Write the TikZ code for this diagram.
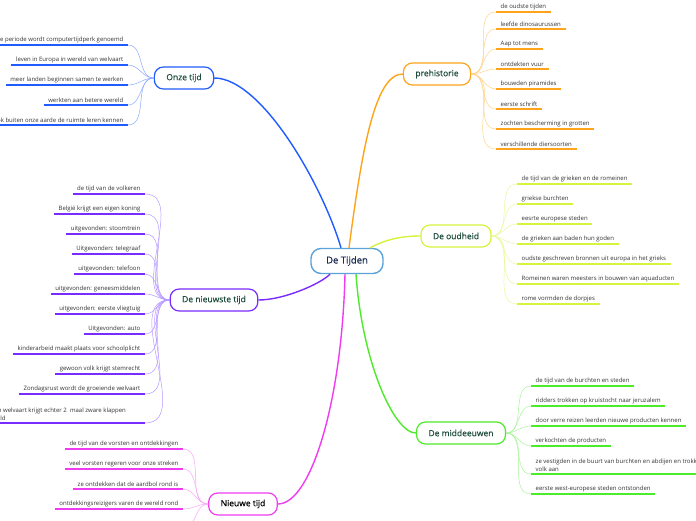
\documentclass[tikz,border=0pt]{standalone}
\usepackage{fontspec}
\setmainfont{Open Sans}
\newfontfamily\hubfont[FakeBold=0.9]{Open Sans}
\newfontfamily\erafont[FakeBold=0.4]{Open Sans}
\usepackage{xcolor}
\usetikzlibrary{positioning}
\definecolor{hubblue}{HTML}{5BA3D9}
\definecolor{hubtext}{HTML}{1A2B50}
\definecolor{eratext}{HTML}{1E4D3B}
\definecolor{leafgray}{HTML}{333333}
\definecolor{onzeblue}{HTML}{1F5BFF}
\definecolor{onzelight}{HTML}{8CABFF}
\definecolor{preorange}{HTML}{FFA31A}
\definecolor{prelight}{HTML}{FFD38A}
\definecolor{oudlime}{HTML}{D4F53C}
\definecolor{oudlight}{HTML}{E8F99C}
\definecolor{midgreen}{HTML}{4DEB2A}
\definecolor{midlight}{HTML}{A8F59A}
\definecolor{nwpurple}{HTML}{7A2BFF}
\definecolor{nwlight}{HTML}{B89AFF}
\definecolor{ntmagenta}{HTML}{F03CF0}
\definecolor{ntlight}{HTML}{F8A8F8}
\tikzset{
  hub/.style={rectangle, draw=hubblue, line width=1.4pt, fill=white, text=hubtext, rounded corners=10pt, minimum width=72pt, minimum height=25pt, font=\hubfont\fontsize{9.5}{11}\selectfont},
  era/.style={rectangle, line width=1.2pt, fill=white, text=eratext, rounded corners=9pt, minimum height=22pt, inner xsep=12pt, font=\erafont\fontsize{8.5}{10}\selectfont},
  leaf/.style={text=leafgray, inner xsep=4.5pt, inner ysep=2.2pt, font=\fontsize{6}{7}\selectfont},
  branch/.style={line width=1.4pt},
  twig/.style={line width=0.5pt},
  underline/.style={line width=1.3pt},
}
\begin{document}
\begin{tikzpicture}[x=1pt, y=-1pt]
  \path[use as bounding box, fill=white] (0,0) rectangle (696,520);
  \clip (0,0) rectangle (696,520);

  \node[hub] (tijden) at (347,261) {De Tijden};
  \node[era, draw=onzeblue] (onze) at (184,78) {Onze tijd};
  \node[era, draw=preorange] (pre) at (437,74) {prehistorie};
  \node[era, draw=oudlime] (oud) at (456,236) {De oudheid};
  \node[era, draw=midgreen] (mid) at (461,433) {De middeeuwen};
  \node[era, draw=nwpurple] (nw) at (214,300) {De nieuwste tijd};
  \node[era, draw=ntmagenta, text=black] (nt) at (243,504) {Nieuwe tijd};

  \draw[branch, onzeblue] ([xshift=-6pt]tijden.north) .. controls +(-19,-64) and +(47,0) .. (onze.east);
  \draw[branch, preorange] ([xshift=2pt]tijden.north) .. controls +(13,-98) and +(-28,0) .. (pre.west);
  \draw[branch, oudlime] ([xshift=23pt]tijden.north) .. controls +(15,-8) and +(-20,0) .. (oud.west);
  \draw[branch, midgreen] ([xshift=9pt]tijden.south) .. controls +(6,87) and +(-22,0) .. (mid.west);
  \draw[branch, nwpurple] ([xshift=-17pt]tijden.south) .. controls +(-10,10) and +(25,0) .. (nw.east);
  \draw[branch, ntmagenta] ([xshift=-2pt]tijden.south) .. controls +(-3,127) and +(33,0) .. (nt.east);

  \foreach \y/\t [count=\i] in {12/de oudste tijden, 29/leefde dinosaurussen, 49/Aap tot mens, 69/ontdekten vuur, 89/bouwden piramides, 109/eerste schrift, 129/zochten bescherming in grotten, 149/verschillende diersoorten}{
    \node[leaf, anchor=south west] (pre\i) at (496,\y) {\t};
    \draw[twig, prelight] (pre.east) to[out=0, in=180] (pre\i.south west);
    \draw[underline, preorange] (pre\i.south west) -- (pre\i.south east);
  }

  \foreach \y/\t [count=\i] in {184/de tijd van de grieken en de  romeinen, 204/griekse burchten, 224/eesrte europese steden, 244/de grieken aan baden hun goden, 264/oudste geschreven bronnen uit europa in het grieks, 284/Romeinen waren meesters in bouwen van aquaducten, 304/rome vormden de dorpjes}{
    \node[leaf, anchor=south west] (oud\i) at (517,\y) {\t};
    \draw[twig, oudlight] (oud.east) to[out=0, in=180] (oud\i.south west);
    \draw[underline, oudlime] (oud\i.south west) -- (oud\i.south east);
  }

  \foreach \y/\t [count=\i] in {386/de tijd van de burchten en steden, 406/ridders trokken op kruistocht naar jeruzalem, 426/door verre reizen leerden nieuwe producten kennen, 446/verkochten de producten, 474/{ze vestigden in de buurt van burchten en abdijen en trokken\\volk aan}, 494/eerste west-europese steden ontstonden}{
    \node[leaf, anchor=south west, align=left, font=\fontsize{6}{8.5}\selectfont] (mid\i) at (531,\y) {\t};
    \draw[twig, midlight] (mid.east) to[out=0, in=180] (mid\i.south west);
    \draw[underline, midgreen] (mid\i.south west) -- (mid\i.south east);
  }

  \foreach \y/\t [count=\i] in {45/deze periode wordt computertijdperk genoemd, 65/leven in Europa in wereld van welvaart, 85/meer landen beginnen samen te werken, 105/werkten aan betere wereld, 125/ook buiten onze aarde de ruimte leren kennen}{
    \node[leaf, anchor=south east] (onze\i) at (128,\y) {\t};
    \draw[twig, onzelight] (onze.west) to[out=180, in=0] (onze\i.south east);
    \draw[underline, onzeblue] (onze\i.south east) -- (onze\i.south west);
  }

  \foreach \y/\t [count=\i] in {194/de tijd van de volkeren, 214/België krijgt een eigen koning, 234/uitgevonden:  stoomtrein, 254/Uitgevonden:  telegraaf, 274/uitgevonden: telefoon, 294/uitgevonden:  geneesmiddelen, 314/uitgevonden:  eerste vliegtuig, 334/Uitgevonden:  auto, 354/kinderarbeid maakt plaats voor schoolplicht, 374/gewoon volk krijgt stemrecht, 394/Zondagsrust wordt de groeiende welvaart}{
    \node[leaf, anchor=south east] (nw\i) at (145,\y) {\t};
    \draw[twig, nwlight] (nw.west) to[out=180, in=0] (nw\i.south east);
    \draw[underline, nwpurple] (nw\i.south east) -- (nw\i.south west);
  }
  \coordinate (nw12end) at (145,423);
  \node[leaf, anchor=south east, align=left, inner xsep=0pt, font=\fontsize{6}{8.5}\selectfont] (nw12) at (126,423) {de mensen hun welvaart krijgt echter 2 \ maal zware klappen\\in de hele wereld};
  \draw[twig, nwlight] (nw.west) to[out=180, in=0] (nw12end);
  \draw[underline, nwpurple] (nw12end) -- ([xshift=-4.5pt]nw12.south west);

  \foreach \y/\t [count=\i] in {449/de tijd van de vorsten en ontdekkingen, 469/veel vorsten regeren voor onze streken, 489/ze ontdekken dat de aardbol rond is, 509/ontdekkingsreizigers varen de wereld rond}{
    \node[leaf, anchor=south east] (nt\i) at (183,\y) {\t};
    \draw[twig, ntlight] (nt.west) to[out=180, in=0] (nt\i.south east);
    \draw[underline, ntmagenta] (nt\i.south east) -- (nt\i.south west);
  }
  \coordinate (nt5) at (183,529);
  \draw[twig, ntlight] (nt.west) to[out=180, in=0] (nt5);
\end{tikzpicture}
\end{document}
